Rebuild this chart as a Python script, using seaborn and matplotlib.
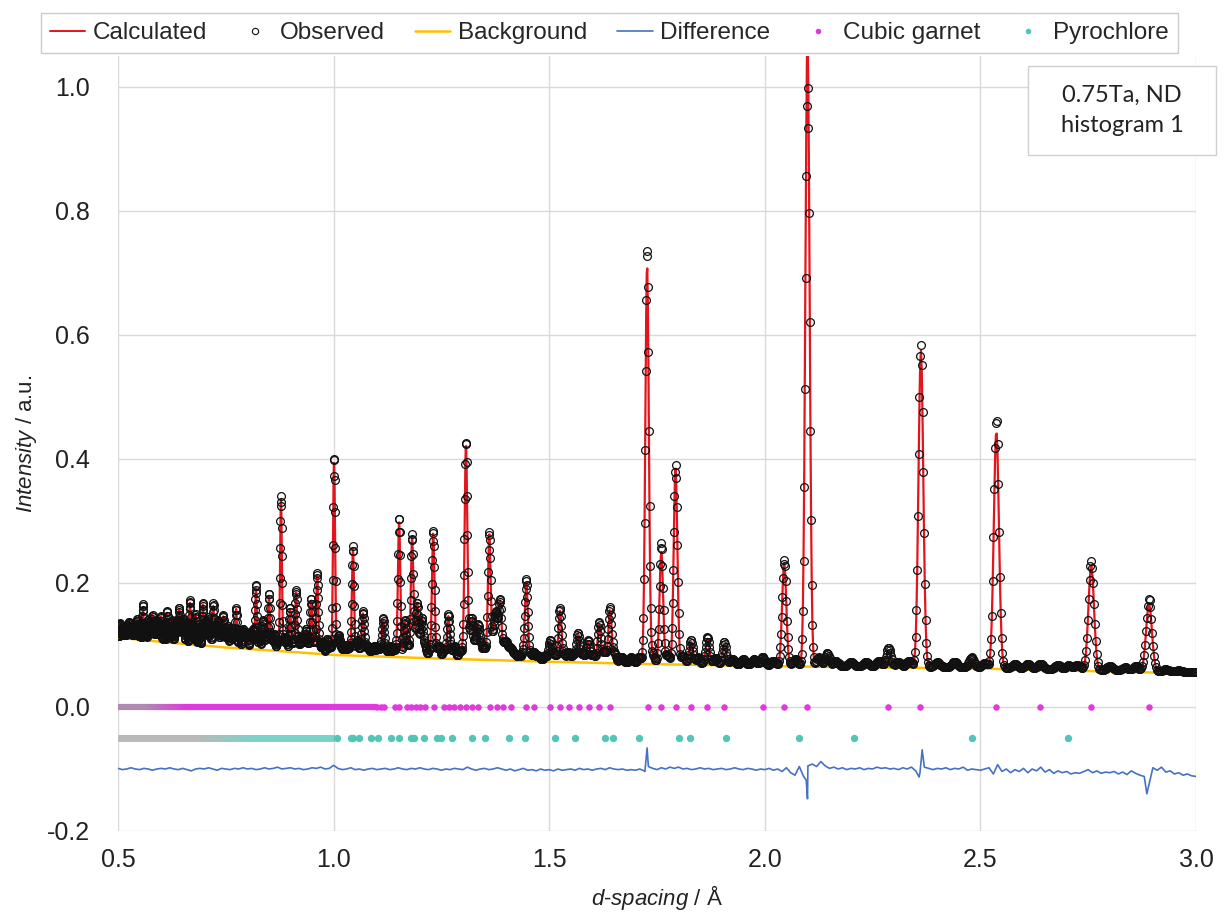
import numpy as np
import pandas as pd
import matplotlib
matplotlib.use("Agg")
import matplotlib.pyplot as plt
import seaborn as sns
from matplotlib.collections import LineCollection
from matplotlib.lines import Line2D
from matplotlib.patches import Rectangle
import matplotlib.colors as mcolors

# ---------------- data ----------------
# strong reflections: position (Å), calculated and observed peak intensity
peak_d = [0.505, 0.515, 0.525, 0.535, 0.545, 0.558, 0.570, 0.580, 0.590, 0.600,
          0.614, 0.625, 0.642, 0.652, 0.667, 0.680, 0.697, 0.708, 0.721, 0.732,
          0.744, 0.755, 0.774, 0.790, 0.800, 0.820, 0.836, 0.850, 0.862, 0.878,
          0.890, 0.899, 0.913, 0.925, 0.936, 0.948, 0.962, 0.975, 0.985, 1.001,
          1.012, 1.025, 1.045, 1.055, 1.068, 1.080, 1.095, 1.115, 1.130, 1.152,
          1.165, 1.182, 1.194, 1.205, 1.231, 1.245, 1.266, 1.280, 1.307, 1.320,
          1.335, 1.361, 1.375, 1.386, 1.400, 1.412, 1.447, 1.465, 1.502, 1.525,
          1.545, 1.567, 1.590, 1.616, 1.641, 1.727, 1.760, 1.793, 1.829, 1.867,
          1.906, 1.995, 2.045, 2.099, 2.145, 2.287, 2.362, 2.480, 2.537, 2.639,
          2.757, 2.891]
peak_calc = [0.135, 0.130, 0.138, 0.132, 0.142, 0.160, 0.140, 0.148, 0.140, 0.146,
             0.152, 0.140, 0.158, 0.142, 0.168, 0.150, 0.165, 0.145, 0.163, 0.140,
             0.146, 0.130, 0.158, 0.125, 0.120, 0.192, 0.140, 0.180, 0.118, 0.335,
             0.112, 0.158, 0.185, 0.112, 0.125, 0.172, 0.212, 0.105, 0.110, 0.395,
             0.115, 0.100, 0.255, 0.108, 0.150, 0.098, 0.098, 0.140, 0.098, 0.300,
             0.140, 0.272, 0.165, 0.140, 0.280, 0.098, 0.145, 0.098, 0.422, 0.140,
             0.130, 0.278, 0.140, 0.165, 0.100, 0.092, 0.200, 0.088, 0.105, 0.155,
             0.088, 0.118, 0.105, 0.133, 0.156, 0.712, 0.250, 0.385, 0.105, 0.110,
             0.102, 0.080, 0.232, 1.080, 0.085, 0.092, 0.575, 0.078, 0.445, 0.068,
             0.228, 0.166]
peak_obs = [0.135, 0.130, 0.138, 0.132, 0.142, 0.166, 0.140, 0.148, 0.140, 0.146,
            0.155, 0.140, 0.160, 0.142, 0.172, 0.150, 0.168, 0.145, 0.167, 0.140,
            0.148, 0.130, 0.160, 0.125, 0.120, 0.197, 0.140, 0.183, 0.118, 0.340,
            0.112, 0.160, 0.188, 0.112, 0.125, 0.175, 0.216, 0.105, 0.110, 0.402,
            0.115, 0.100, 0.260, 0.108, 0.153, 0.098, 0.098, 0.143, 0.098, 0.306,
            0.140, 0.277, 0.165, 0.140, 0.285, 0.098, 0.148, 0.098, 0.427, 0.140,
            0.130, 0.282, 0.140, 0.168, 0.100, 0.092, 0.205, 0.088, 0.108, 0.160,
            0.088, 0.120, 0.108, 0.137, 0.161, 0.740, 0.265, 0.390, 0.108, 0.113,
            0.105, 0.081, 0.237, 1.000, 0.087, 0.095, 0.585, 0.080, 0.465, 0.070,
            0.235, 0.175]
# weak reflections that make the rough, dense baseline (same in both profiles)
weak_d = [0.510, 0.520, 0.530, 0.540, 0.551, 0.564, 0.575, 0.585, 0.595, 0.607,
          0.619, 0.632, 0.637, 0.647, 0.659, 0.673, 0.688, 0.703, 0.714, 0.727,
          0.738, 0.750, 0.762, 0.768, 0.782, 0.795, 0.808, 0.814, 0.828, 0.843,
          0.856, 0.870, 0.884, 0.906, 0.919, 0.930, 0.942, 0.955, 0.968, 0.992,
          1.006, 1.018, 1.032, 1.038, 1.062, 1.074, 1.088, 1.102, 1.108, 1.122,
          1.138, 1.145, 1.173, 1.188, 1.200, 1.212, 1.222, 1.238, 1.256, 1.272,
          1.292, 1.300, 1.314, 1.328, 1.342, 1.350, 1.369, 1.380, 1.394, 1.406,
          1.420, 1.430, 1.440, 1.456, 1.475, 1.490, 1.512, 1.535, 1.556, 1.578,
          1.602, 1.628, 1.652, 1.668, 1.690, 1.709, 1.740, 1.775, 1.810, 1.845,
          1.885, 1.925, 1.950, 1.975, 2.020, 2.070, 2.125, 2.165, 2.200, 2.235,
          2.265, 2.310, 2.335, 2.400, 2.440, 2.510, 2.580, 2.610, 2.680, 2.705,
          2.725, 2.800, 2.835, 2.860, 2.930, 2.960, 2.985]
weak_h = [0.128, 0.126, 0.130, 0.128, 0.135, 0.130, 0.132, 0.128, 0.130, 0.135,
          0.128, 0.132, 0.140, 0.130, 0.136, 0.134, 0.130, 0.138, 0.128, 0.132,
          0.125, 0.122, 0.128, 0.120, 0.125, 0.118, 0.120, 0.125, 0.116, 0.120,
          0.112, 0.108, 0.110, 0.104, 0.102, 0.104, 0.101, 0.103, 0.099, 0.097,
          0.099, 0.096, 0.094, 0.097, 0.094, 0.095, 0.092, 0.093, 0.094, 0.091,
          0.093, 0.095, 0.098, 0.104, 0.098, 0.099, 0.092, 0.092, 0.094, 0.091,
          0.090, 0.095, 0.098, 0.102, 0.098, 0.095, 0.102, 0.108, 0.097, 0.090,
          0.086, 0.085, 0.088, 0.084, 0.083, 0.083, 0.085, 0.084, 0.085, 0.085,
          0.085, 0.090, 0.085, 0.081, 0.080, 0.081, 0.084, 0.084, 0.083, 0.080,
          0.079, 0.078, 0.077, 0.077, 0.075, 0.077, 0.080, 0.074, 0.073, 0.073,
          0.075, 0.073, 0.075, 0.072, 0.073, 0.071, 0.069, 0.070, 0.068, 0.067,
          0.068, 0.066, 0.064, 0.066, 0.061, 0.059, 0.057]
fwhm_rel = 0.0055           # peak width relative to d-spacing

# background curve nodes
bg_d = [0.50, 0.60, 0.75, 0.90, 1.00, 1.25, 1.50, 1.75, 2.00, 2.25, 2.50, 2.75, 3.00]
bg_v = [0.112, 0.105, 0.096, 0.089, 0.084, 0.078, 0.073, 0.069, 0.066, 0.064, 0.062, 0.058, 0.054]
diffuse = 0.002

# difference curve, sampled every 0.01 Å from 0.50 to 3.00, plus sharp features
diff_v = [-0.099, -0.101, -0.100, -0.098, -0.100, -0.101, -0.099, -0.100, -0.102, -0.100,
          -0.099, -0.100, -0.098, -0.100, -0.101, -0.099, -0.101, -0.103, -0.100, -0.099,
          -0.100, -0.098, -0.100, -0.102, -0.099, -0.100, -0.101, -0.099, -0.100, -0.098,
          -0.100, -0.099, -0.101, -0.100, -0.098, -0.100, -0.099, -0.097, -0.100, -0.099,
          -0.098, -0.100, -0.099, -0.101, -0.100, -0.098, -0.099, -0.097, -0.100, -0.099,
          -0.094, -0.099, -0.101, -0.100, -0.098, -0.101, -0.100, -0.102, -0.100, -0.099,
          -0.101, -0.100, -0.099, -0.101, -0.100, -0.098, -0.100, -0.101, -0.099, -0.100,
          -0.098, -0.100, -0.101, -0.099, -0.100, -0.102, -0.100, -0.101, -0.099, -0.100,
          -0.101, -0.097, -0.100, -0.102, -0.100, -0.099, -0.101, -0.100, -0.098, -0.100,
          -0.102, -0.100, -0.103, -0.101, -0.099, -0.102, -0.101, -0.103, -0.100, -0.102,
          -0.101, -0.103, -0.100, -0.102, -0.101, -0.100, -0.102, -0.099, -0.101, -0.100,
          -0.102, -0.100, -0.099, -0.101, -0.098, -0.100, -0.101, -0.100, -0.102, -0.101,
          -0.102, -0.100, -0.103, -0.096, -0.099, -0.101, -0.098, -0.100, -0.097, -0.099,
          -0.097, -0.100, -0.099, -0.101, -0.100, -0.098, -0.100, -0.099, -0.101, -0.100,
          -0.099, -0.101, -0.100, -0.098, -0.100, -0.101, -0.099, -0.100, -0.102, -0.100,
          -0.101, -0.099, -0.102, -0.100, -0.104, -0.098, -0.106, -0.110, -0.096, -0.112,
          -0.095, -0.092, -0.096, -0.088, -0.095, -0.099, -0.097, -0.100, -0.098, -0.101,
          -0.099, -0.100, -0.098, -0.101, -0.099, -0.100, -0.097, -0.099, -0.098, -0.100,
          -0.099, -0.101, -0.098, -0.100, -0.097, -0.103, -0.105, -0.097, -0.099, -0.101,
          -0.099, -0.100, -0.098, -0.101, -0.099, -0.100, -0.097, -0.102, -0.100, -0.101,
          -0.102, -0.100, -0.098, -0.108, -0.093, -0.104, -0.100, -0.106, -0.101, -0.104,
          -0.099, -0.106, -0.100, -0.103, -0.097, -0.105, -0.101, -0.107, -0.103, -0.106,
          -0.104, -0.108, -0.106, -0.107, -0.104, -0.101, -0.106, -0.103, -0.107, -0.105,
          -0.106, -0.104, -0.108, -0.105, -0.109, -0.103, -0.107, -0.110, -0.112, -0.128,
          -0.098, -0.102, -0.097, -0.105, -0.103, -0.108, -0.106, -0.110, -0.108, -0.111,
          -0.112]
spike_d = [1.722, 1.727, 2.096, 2.099, 2.358, 2.365, 2.886]
spike_v = [-0.104, -0.066, -0.118, -0.148, -0.113, -0.069, -0.140]

# reflection tick marks (Å)
garnet_ticks = [2.891, 2.757, 2.639, 2.536, 2.361, 2.286, 2.098, 2.044, 1.995, 1.906,
                1.866, 1.829, 1.793, 1.760, 1.728, 1.642, 1.616, 1.592, 1.568, 1.545,
                1.524, 1.503, 1.464, 1.446, 1.411, 1.394, 1.378, 1.363, 1.334, 1.320,
                1.306, 1.293, 1.280, 1.268, 1.256, 1.233, 1.211, 1.201, 1.190, 1.180,
                1.171, 1.152, 1.143, 1.117, 1.109, 1.101]
garnet_band = (0.50, 1.10)
pyro_ticks = [2.702, 2.480, 2.207, 2.080, 1.911, 1.827, 1.802, 1.709, 1.648, 1.630,
              1.560, 1.514, 1.445, 1.407, 1.351, 1.321, 1.274, 1.248, 1.240, 1.209,
              1.187, 1.180, 1.152, 1.133, 1.103, 1.086, 1.060, 1.045, 1.040, 1.008]
pyro_band = (0.50, 1.00)
garnet_level = 0.0
pyro_level = -0.05

x_ticks = [0.5, 1.0, 1.5, 2.0, 2.5, 3.0]
y_ticks = [-0.2, 0.0, 0.2, 0.4, 0.6, 0.8, 1.0]

# ---------------- styling ----------------
C_CALC = "#e3141b"
C_OBS = "#111111"
C_BG = "#ffc000"
C_DIFF = "#4472c4"
C_GAR = "#de3ade"
C_PYR = "#4fc6b6"

sns.set_theme(style="whitegrid")
plt.rcParams["font.family"] = ["Liberation Sans", "DejaVu Sans"]
plt.rcParams["mathtext.fontset"] = "custom"
plt.rcParams["mathtext.rm"] = "Liberation Sans"
plt.rcParams["mathtext.it"] = "Liberation Sans:italic"
plt.rcParams["axes.unicode_minus"] = False

fig = plt.figure(figsize=(12.24, 9.19), dpi=100)
ax = fig.add_axes([118 / 1224, 1 - 831 / 919, (1196 - 118) / 1224, (831 - 56) / 919])

# ---------------- profiles ----------------
d_grid = np.geomspace(0.5, 3.0, 2400)


def add_peaks(y, d, pos, heights):
    for p, h in zip(pos, heights):
        amp = max(h - (np.interp(p, bg_d, bg_v) + diffuse), 0.0)
        sig = fwhm_rel * p / 2.3548
        y = y + amp * np.exp(-0.5 * ((d - p) / sig) ** 2)
    return y


base = np.interp(d_grid, bg_d, bg_v) + diffuse
weak = add_peaks(np.zeros_like(d_grid), d_grid, weak_d, weak_h)
calc = add_peaks(base + weak, d_grid, peak_d, peak_calc)
obs = add_peaks(base + weak, d_grid, peak_d, peak_obs)
df = pd.DataFrame({"d": d_grid, "calc": calc, "obs": obs})

diff_base_d = np.round(np.arange(0.50, 3.0001, 0.01), 3)
diff_df = pd.DataFrame({"d": np.concatenate([diff_base_d, spike_d]),
                        "v": np.concatenate([diff_v, spike_v])}).sort_values("d")
bg_df = pd.DataFrame({"d": bg_d, "v": bg_v})

# calculated
sns.lineplot(data=df, x="d", y="calc", ax=ax, color=C_CALC, lw=1.6,
             estimator=None, sort=False, zorder=3)
# background (mostly hidden by the observed points)
sns.lineplot(data=bg_df, x="d", y="v", ax=ax, color=C_BG, lw=1.8,
             estimator=None, sort=False, zorder=3.5)
# observed (open circles)
ax.plot(df["d"], df["obs"], ls="none", marker="o", ms=5.6, mfc="none",
        mec=C_OBS, mew=0.9, zorder=4)
# difference
sns.lineplot(data=diff_df, x="d", y="v", ax=ax, color=C_DIFF, lw=1.2,
             estimator=None, sort=False, zorder=3)


# dense reflection bands (overlapping markers) drawn with a colour gradient
def band(lo, hi, level, c_start, c_end, t0, t1, lw):
    xs = np.linspace(lo, hi, 300)
    segs = [[(xs[i], level), (xs[i + 1], level)] for i in range(len(xs) - 1)]
    mids = 0.5 * (xs[:-1] + xs[1:])
    t = np.clip((mids - t0) / (t1 - t0), 0, 1)
    c0 = np.array(mcolors.to_rgb(c_start))
    c1 = np.array(mcolors.to_rgb(c_end))
    cols = [tuple(c0 * (1 - k) + c1 * k) for k in t]
    lc = LineCollection(segs, colors=cols, linewidths=lw, capstyle="butt", zorder=4)
    ax.add_collection(lc)


band(garnet_band[0], garnet_band[1], garnet_level, "#b08ab0", C_GAR, 0.56, 0.66, 4.5)
band(pyro_band[0], pyro_band[1], pyro_level, "#a3a3a3", C_PYR, 0.68, 0.82, 5.0)

sns.scatterplot(x=garnet_ticks, y=[garnet_level] * len(garnet_ticks), ax=ax,
                color=C_GAR, s=22, linewidth=0, zorder=5)
sns.scatterplot(x=pyro_ticks, y=[pyro_level] * len(pyro_ticks), ax=ax,
                color=C_PYR, s=28, linewidth=0, zorder=5)

# ---------------- axes ----------------
ax.set_xlim(0.5, 3.0)
ax.set_ylim(-0.2, 1.05)
ax.set_xticks(x_ticks)
ax.set_yticks(y_ticks)
ax.set_xticklabels([f"{v:.1f}" for v in x_ticks])
ax.set_yticklabels([f"{v:.1f}" for v in y_ticks])
ax.grid(True, color="#d9d9d9", lw=1.0)
for s in ax.spines.values():
    s.set_visible(False)
ax.tick_params(axis="both", length=0, labelsize=18, colors="#222222")
ax.tick_params(axis="y", pad=20)
ax.tick_params(axis="x", pad=12)
ax.set_xlabel(r"$\mathit{d}$-$\mathit{spacing}$ / Å", fontsize=16, labelpad=8, color="#222222")
ax.set_ylabel(r"$\mathit{Intensity}$ / a.u.", fontsize=16, labelpad=6, color="#222222")

# ---------------- legend ----------------
handles = [
    Line2D([], [], color=C_CALC, lw=1.4),
    Line2D([], [], ls="none", marker="o", ms=4.5, mfc="none", mec=C_OBS, mew=0.8),
    Line2D([], [], color=C_BG, lw=1.8),
    Line2D([], [], color=C_DIFF, lw=1.2),
    Line2D([], [], ls="none", marker="o", ms=4, color=C_GAR, mec="none"),
    Line2D([], [], ls="none", marker="o", ms=4, color=C_PYR, mec="none"),
]
labels = ["Calculated", "Observed", "Background", "Difference", "Cubic garnet", "Pyrochlore"]
leg = fig.legend(handles, labels, loc="center", bbox_to_anchor=(609.5 / 1224, 1 - 33 / 919),
                 ncol=6, frameon=True, fancybox=False, fontsize=17.5, handlelength=1.45,
                 handletextpad=0.3, columnspacing=1.25, borderpad=0.35)
leg.get_frame().set_edgecolor("#bfbfbf")
leg.get_frame().set_linewidth(1.0)

# ---------------- annotation box ----------------
fig.add_artist(Rectangle((1028 / 1224, 1 - 155 / 919), 188 / 1224, 89 / 919,
                         transform=fig.transFigure, facecolor="white",
                         edgecolor="#d0d0d0", lw=1.0, zorder=10))
fig.text(1122 / 1224, 1 - 110.5 / 919, "0.75Ta, ND\nhistogram 1", ha="center", va="center",
         fontsize=17, family=["Lato", "DejaVu Sans"], linespacing=1.5, color="#222222", zorder=11)

fig.savefig("out.png", dpi=100)
